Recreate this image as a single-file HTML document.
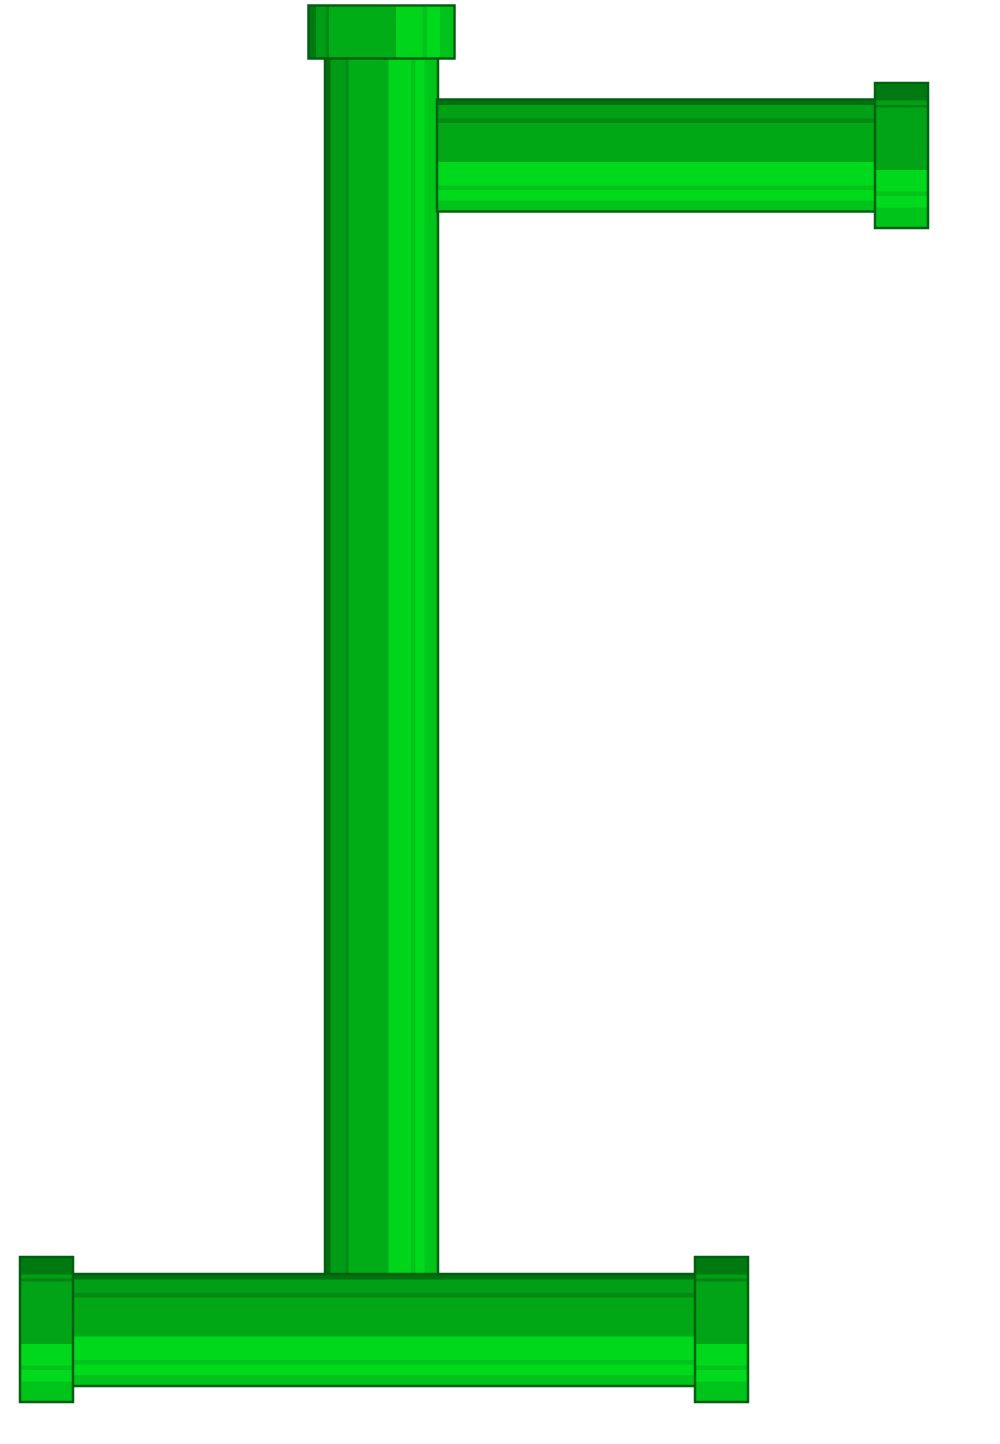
<!DOCTYPE html>
<html><head><meta charset="utf-8"><style>html,body{margin:0;padding:0;background:#fff}svg{display:block}</style></head>
<body>
<svg width="1000" height="1444" viewBox="0 0 1000 1444">
<defs>
<linearGradient id="gh" x1="0" y1="0" x2="1" y2="0">
<stop offset="0" stop-color="#006e10"/><stop offset="0.05" stop-color="#006e10"/>
<stop offset="0.05" stop-color="#009c15"/><stop offset="0.18" stop-color="#009c15"/>
<stop offset="0.18" stop-color="#008a13"/><stop offset="0.21" stop-color="#008a13"/>
<stop offset="0.21" stop-color="#00ad17"/><stop offset="0.56" stop-color="#00ad17"/>
<stop offset="0.56" stop-color="#00d51c"/><stop offset="0.76" stop-color="#00d51c"/>
<stop offset="0.76" stop-color="#00c41a"/><stop offset="0.80" stop-color="#00c41a"/>
<stop offset="0.80" stop-color="#00da1c"/><stop offset="0.88" stop-color="#00da1c"/>
<stop offset="0.88" stop-color="#00c81a"/><stop offset="0.93" stop-color="#00c81a"/>
<stop offset="0.93" stop-color="#00c41a"/><stop offset="1" stop-color="#00c41a"/>
</linearGradient>
<linearGradient id="gv" x1="0" y1="0" x2="0" y2="1">
<stop offset="0" stop-color="#007010"/><stop offset="0.05" stop-color="#007010"/>
<stop offset="0.05" stop-color="#009f15"/><stop offset="0.17" stop-color="#009f15"/>
<stop offset="0.17" stop-color="#008a13"/><stop offset="0.21" stop-color="#008a13"/>
<stop offset="0.21" stop-color="#00a816"/><stop offset="0.56" stop-color="#00a816"/>
<stop offset="0.56" stop-color="#00d81c"/><stop offset="0.77" stop-color="#00d81c"/>
<stop offset="0.77" stop-color="#00c41a"/><stop offset="0.81" stop-color="#00c41a"/>
<stop offset="0.81" stop-color="#00da1c"/><stop offset="0.90" stop-color="#00da1c"/>
<stop offset="0.90" stop-color="#00c41a"/><stop offset="1" stop-color="#00c41a"/>
</linearGradient>
<linearGradient id="gcv" x1="0" y1="0" x2="0" y2="1">
<stop offset="0" stop-color="#007a10"/><stop offset="0.12" stop-color="#007a10"/>
<stop offset="0.12" stop-color="#009f15"/><stop offset="0.15" stop-color="#009f15"/>
<stop offset="0.15" stop-color="#008212"/><stop offset="0.17" stop-color="#008212"/>
<stop offset="0.17" stop-color="#00a416"/><stop offset="0.6" stop-color="#00a416"/>
<stop offset="0.6" stop-color="#00d81c"/><stop offset="0.75" stop-color="#00d81c"/>
<stop offset="0.75" stop-color="#00c41a"/><stop offset="0.78" stop-color="#00c41a"/>
<stop offset="0.78" stop-color="#00da1c"/><stop offset="0.86" stop-color="#00da1c"/>
<stop offset="0.86" stop-color="#00c41a"/><stop offset="1" stop-color="#00c41a"/>
</linearGradient>
<linearGradient id="gch" x1="0" y1="0" x2="1" y2="0">
<stop offset="0" stop-color="#007a10"/><stop offset="0.05" stop-color="#007a10"/>
<stop offset="0.05" stop-color="#009c15"/><stop offset="0.12" stop-color="#009c15"/>
<stop offset="0.12" stop-color="#008a13"/><stop offset="0.14" stop-color="#008a13"/>
<stop offset="0.14" stop-color="#00ad17"/><stop offset="0.6" stop-color="#00ad17"/>
<stop offset="0.6" stop-color="#00d51c"/><stop offset="0.78" stop-color="#00d51c"/>
<stop offset="0.78" stop-color="#00c41a"/><stop offset="0.81" stop-color="#00c41a"/>
<stop offset="0.81" stop-color="#00da1c"/><stop offset="0.9" stop-color="#00da1c"/>
<stop offset="0.9" stop-color="#00c41a"/><stop offset="1" stop-color="#00c41a"/>
</linearGradient>
</defs>
<g stroke="#006010" stroke-width="2.5">
<rect x="325" y="58" width="113" height="1218" fill="url(#gh)"/>
<rect x="308.5" y="5.5" width="146" height="53" fill="url(#gch)"/>
<rect x="437" y="99.5" width="439" height="112" fill="url(#gv)"/>
<rect x="875" y="83" width="53" height="145" fill="url(#gcv)"/>
<rect x="72" y="1274" width="624" height="112" fill="url(#gv)"/>
<rect x="20" y="1257" width="53" height="145" fill="url(#gcv)"/>
<rect x="695" y="1257" width="53" height="145" fill="url(#gcv)"/>
</g>
</svg>
</body></html>
